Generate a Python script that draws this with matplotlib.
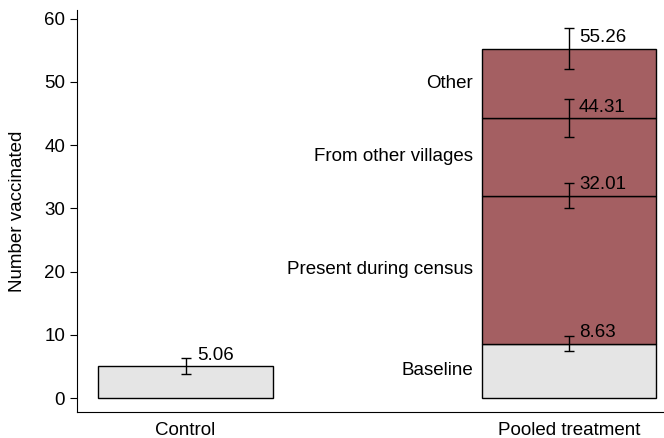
import matplotlib
matplotlib.use('Agg')
import matplotlib.pyplot as plt

plt.rcParams['font.family'] = ['Liberation Sans', 'DejaVu Sans']

groups = ['Control', 'Pooled treatment']
control_total = 5.06
control_ci = 1.2

# cumulative totals for the pooled arm, bottom to top
segment_names = ['Baseline', 'Present during census', 'From other villages', 'Other']
cumulative = [8.63, 32.01, 44.31, 55.26]
cumulative_ci = [1.2, 2.0, 3.0, 3.2]
segment_colors = ['#e5e5e5', '#a45f62', '#a45f62', '#a45f62']

fs = 13.5
bar_w = 0.456
fig = plt.figure(figsize=(6.64, 4.38), dpi=100)
ax = fig.add_axes([0.116, 0.0594, 0.884, 0.918])

# control
ax.bar(0, control_total, width=bar_w, color='#e5e5e5', edgecolor='black', linewidth=1)
ax.errorbar(0, control_total, yerr=control_ci, fmt='none', ecolor='black',
            elinewidth=1, capsize=3.5, capthick=1)
ax.text(0 + 0.031, control_total + 1.7, f'{control_total:.2f}', va='center', ha='left', fontsize=fs)

# pooled treatment, stacked
bottoms = [0] + cumulative[:-1]
for name, lo, hi, c in zip(segment_names, bottoms, cumulative, segment_colors):
    ax.bar(1, hi - lo, bottom=lo, width=bar_w, color=c, edgecolor='black', linewidth=1)
    ax.text(1 - bar_w / 2 - 0.022, (lo + hi) / 2, name, ha='right', va='center', fontsize=fs)
for v, ci in zip(cumulative, cumulative_ci):
    ax.errorbar(1, v, yerr=ci, fmt='none', ecolor='black', elinewidth=1, capsize=3.5, capthick=1)
    ax.text(1 + 0.026, v + 1.7, f'{v:.2f}', va='center', ha='left', fontsize=fs)

ax.set_xlim(-0.283, 1.248)
ax.set_ylim(-2.2, 61.4)
ax.set_xticks([0, 1])
ax.set_xticklabels(groups, fontsize=fs)
ax.tick_params(axis='x', length=0, pad=7)
ax.set_yticks(range(0, 61, 10))
ax.tick_params(axis='y', labelsize=fs, length=5)
ax.set_ylabel('Number vaccinated', fontsize=fs, labelpad=13)
for s in ['top', 'right']:
    ax.spines[s].set_visible(False)

fig.savefig('out.png', dpi=100)
